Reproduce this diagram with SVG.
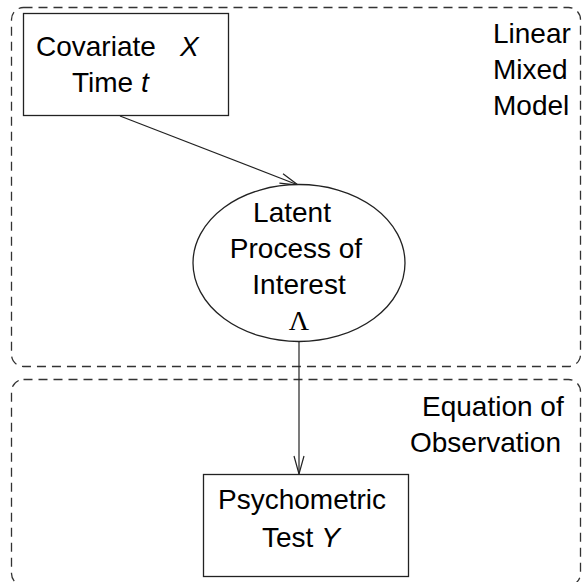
<svg xmlns="http://www.w3.org/2000/svg" width="583" height="582" viewBox="0 0 583 582">
<style>
.t{font-family:"Liberation Sans",Arial,sans-serif;font-size:28px;fill:#000}
.i{font-style:italic}
.frame{fill:none;stroke:#333;stroke-width:1.3;stroke-dasharray:9,6}
.node{fill:#fff;stroke:#222;stroke-width:1.3}
.edge{fill:none;stroke:#222;stroke-width:1.2}
</style>
<defs>
<marker id="arr" viewBox="0 0 20 12" refX="19" refY="6" markerWidth="20" markerHeight="12" markerUnits="userSpaceOnUse" orient="auto">
<path d="M1,1 L19,6 L1,11" fill="none" stroke="#222" stroke-width="1.2"/>
</marker>
</defs>
<g id="frame-lmm">
<rect class="frame" x="11.5" y="7.5" width="569" height="359" rx="12"/>
<text class="t" x="493" y="43">Linear</text>
<text class="t" x="493" y="79">Mixed</text>
<text class="t" x="493" y="115">Model</text>
</g>
<g id="frame-obs">
<rect class="frame" x="11.5" y="379.5" width="569" height="206" rx="12"/>
<text class="t" x="422" y="416">Equation of</text>
<text class="t" x="410" y="452">Observation</text>
</g>
<g id="connectors">
<line class="edge" x1="120" y1="116" x2="298" y2="185" marker-end="url(#arr)"/>
<line class="edge" x1="299" y1="342" x2="299" y2="474" marker-end="url(#arr)"/>
</g>
<g id="node-covariate">
<rect class="node" x="23.5" y="13.5" width="205" height="102"/>
<text class="t" x="36" y="56">Covariate</text>
<text class="t i" x="180" y="56">X</text>
<text class="t" x="72" y="92">Time <tspan class="i">t</tspan></text>
</g>
<g id="node-latent">
<ellipse class="node" cx="299" cy="263" rx="106" ry="78.5"/>
<text class="t" x="292" y="222" text-anchor="middle">Latent</text>
<text class="t" x="296" y="258" text-anchor="middle">Process of</text>
<text class="t" x="299" y="294" text-anchor="middle">Interest</text>
<text x="299" y="330" text-anchor="middle" style="font-family:'Liberation Serif','Times New Roman',serif;font-size:28px">Λ</text>
</g>
<g id="node-test">
<rect class="node" x="203.5" y="474.5" width="205" height="102"/>
<text class="t" x="218" y="509">Psychometric</text>
<text class="t" x="262" y="547">Test <tspan class="i">Y</tspan></text>
</g>
</svg>
